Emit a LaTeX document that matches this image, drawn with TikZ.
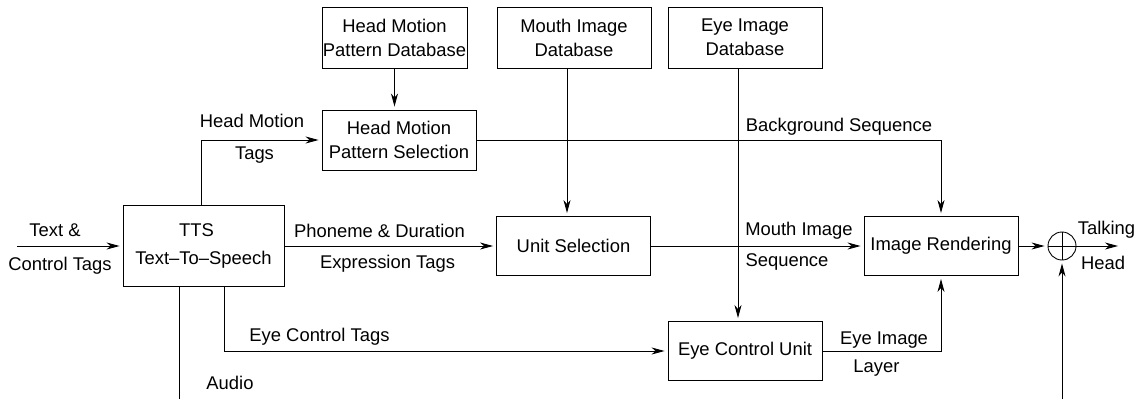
\documentclass[tikz,border=0pt]{standalone}
\usepackage{fontspec}
\setmainfont{Liberation Sans}
\usetikzlibrary{arrows.meta,calc}
\begin{document}
\begin{tikzpicture}[x=1pt,y=-1pt,
  every node/.style={font=\fontsize{18.4}{24}\selectfont},
  blk/.style={draw,line width=0.9pt,inner sep=0pt,align=center},
  ln/.style={line width=0.9pt},
  arr/.style={line width=0.9pt,-{Stealth[length=13pt,width=7pt,inset=4pt]},shorten >=3pt},
  lbl/.style={anchor=base,inner sep=0pt}]
\useasboundingbox (0,0) rectangle (1143,399);
% boxes
\node[blk,minimum width=145pt,minimum height=61pt] (hmdb) at (394.5,37.5) {Head Motion\\Pattern Database};
\node[blk,minimum width=154pt,minimum height=60pt] (hmps) at (399,140) {Head Motion\\Pattern Selection};
\node[blk,minimum width=154pt,minimum height=61pt] (mdb) at (574,37.5) {Mouth Image\\Database};
\node[blk,minimum width=154pt,minimum height=61pt] (edb) at (745,37.5) {Eye Image\\Database};
\node[blk,minimum width=161pt,minimum height=81pt] (tts) at (203.5,246) {TTS\hspace*{14pt}\\[4pt]Text\textendash To\textendash Speech};
\node[blk,minimum width=154pt,minimum height=59pt] (us) at (573.5,246) {Unit Selection};
\node[blk,minimum width=154pt,minimum height=59pt] (ir) at (941,246) {Image Rendering};
\node[blk,minimum width=154pt,minimum height=59pt] (ecu) at (745,351) {Eye Control Unit};
\node[draw,circle,line width=0.9pt,minimum size=28pt,inner sep=0pt] (sum) at (1062,246) {};
\draw[ln] (sum.west) -- (sum.east) (sum.north) -- (sum.south);
% free ends
\coordinate (in) at (17,246);
\coordinate (out) at (1121,246);
\coordinate (audio) at (179,399);
\coordinate (bot) at (1062,399);
% connectors
\draw[arr] (in) -- (tts.west);
\draw[arr] (hmdb.south) -- (hmps.north -| hmdb.south);
\draw[arr] (tts.north -| 201,0) |- (hmps.west);
\draw[arr] (hmps.east) -| (ir.north);
\draw[arr] (mdb.south -| 567,0) -- (us.north -| 567,0);
\draw[arr] (edb.south -| 738,0) -- (ecu.north -| 738,0);
\draw[arr] (tts.east) -- (us.west);
\draw[arr] (us.east) -- (ir.west);
\draw[arr] (tts.south -| 224,0) |- (ecu.west);
\draw[arr] (ecu.east) -| (ir.south);
\draw[ln] (tts.south -| audio) -- (audio);
\draw[arr] (ir.east) -- (sum.west);
\draw[arr] (sum.east) -- (out);
\draw[arr] (bot) -- (sum.south);
% labels
\node[lbl] (l1) at (55,236) {Text \&};
\node[lbl] (l2) at (60,270) {Control Tags};
\node[lbl] (l3) at (252,127) {Head Motion};
\node[lbl] (l4) at (254.5,159) {Tags};
\node[lbl] (l5) at (379.5,237) {Phoneme \& Duration};
\node[lbl] (l6) at (387.5,268) {Expression Tags};
\node[lbl] (l7) at (839,131) {Background Sequence};
\node[lbl] (l8) at (799,235) {Mouth Image};
\node[lbl] (l9) at (787,266) {Sequence};
\node[lbl] (l10) at (319.5,341) {Eye Control Tags};
\node[lbl] (l11) at (230,389) {Audio};
\node[lbl] (l12) at (884,344) {Eye Image};
\node[lbl] (l13) at (876.5,372) {Layer};
\node[lbl] (l14) at (1106.5,234) {Talking};
\node[lbl] (l15) at (1103,269) {Head};
\end{tikzpicture}
\end{document}
